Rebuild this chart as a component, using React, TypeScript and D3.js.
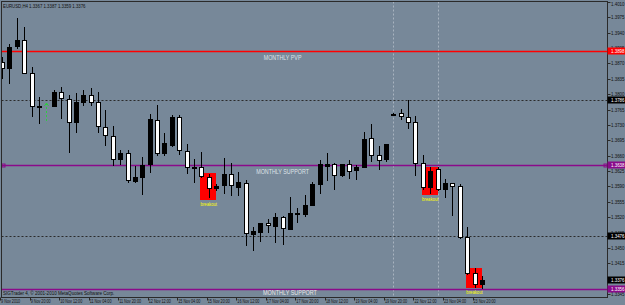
import React from 'react';
import * as d3 from 'd3';

// ---- data (EURUSD H4) ----
const opens = [1.3873,1.3860,1.3910,1.3923,1.3848,1.3772,NaN,1.3773,1.3805,1.3789,1.3737,1.3782,1.3798,1.3782,1.3725,1.3705,1.3653,1.3666,1.3602,1.3612,1.3641,1.3741,1.3666,1.3684,1.3748,1.3671,1.3633,1.3634,1.3612,1.3587,1.3593,1.3618,1.3589,1.3598,1.3482,1.3486,1.3507,1.3500,1.3520,1.3493,1.3529,1.3527,1.3548,1.3596,1.3637,1.3641,1.3616,1.3641,1.3627,1.3634,1.3700,1.3662,1.3653,1.3754,1.3757,1.3748,1.3737,1.3643,1.3589,1.3630,1.3584,1.3598,1.3591,1.3475,1.3393,1.3367];
const highs = [1.3885,1.3914,1.3974,1.3953,1.3862,1.3794,NaN,1.3810,1.3817,1.3798,1.3803,1.3810,1.3814,1.3805,1.3764,1.3728,1.3673,1.3673,1.3637,1.3657,1.3755,1.3775,1.3712,1.3753,1.3753,1.3687,1.3653,1.3668,1.3618,1.3596,1.3655,1.3643,1.3623,1.3605,1.3498,1.3507,1.3516,1.3530,1.3523,1.3566,1.3541,1.3571,1.3600,1.3650,1.3666,1.3643,1.3641,1.3650,1.3639,1.3714,1.3732,1.3682,1.3687,1.3757,1.3766,1.3787,1.3750,1.3662,1.3634,1.3634,1.3607,1.3598,1.3596,1.3498,1.3404,1.3387];
const lows = [1.3837,1.3826,1.3905,1.3848,1.3750,1.3734,NaN,1.3773,1.3746,1.3668,1.3714,1.3775,1.3775,1.3714,1.3684,1.3639,1.3641,1.3600,1.3600,1.3573,1.3623,1.3662,1.3662,1.3682,1.3664,1.3621,1.3600,1.3612,1.3566,1.3582,1.3575,1.3571,1.3571,1.3457,1.3445,1.3466,1.3486,1.3464,1.3459,1.3493,1.3509,1.3523,1.3548,1.3575,1.3605,1.3584,1.3614,1.3609,1.3607,1.3634,1.3648,1.3630,1.3648,1.3753,1.3744,1.3723,1.3616,1.3584,1.3575,1.3582,1.3566,1.3525,1.3473,1.3391,1.3361,1.3359];
const closes = [1.3860,1.3908,1.3923,1.3848,1.3773,1.3774,NaN,1.3805,1.3791,1.3737,1.3782,1.3798,1.3782,1.3728,1.3707,1.3653,1.3666,1.3605,1.3612,1.3639,1.3744,1.3666,1.3689,1.3748,1.3673,1.3634,1.3635,1.3614,1.3587,1.3591,1.3618,1.3593,1.3600,1.3484,1.3489,1.3507,1.3502,1.3520,1.3495,1.3530,1.3530,1.3548,1.3596,1.3641,1.3641,1.3616,1.3641,1.3625,1.3634,1.3698,1.3662,1.3650,1.3687,1.3756,1.3750,1.3737,1.3643,1.3589,1.3625,1.3584,1.3598,1.3591,1.3475,1.3393,1.3368,1.3376];

const timeLabelBars = [0,4,8,12,16,20,24,28,32,36,40,44,48,52,56,60,64];
const timeLabels = ['9 Nov 2010','9 Nov 20:00','10 Nov 12:00','11 Nov 04:00','11 Nov 20:00','12 Nov 12:00','15 Nov 04:00','15 Nov 20:00','16 Nov 12:00','17 Nov 04:00','17 Nov 20:00','18 Nov 12:00','19 Nov 04:00','19 Nov 20:00','22 Nov 12:00','23 Nov 04:00','23 Nov 20:00'];

const priceTicks = d3.range(20).map(i => +(1.4010 - 0.0035 * i).toFixed(4));

const levelPrices = [1.3898, 1.3786, 1.3638, 1.3476, 1.3356];
const levelKinds = ['red', 'dot', 'purple', 'dot', 'purple'];

const tagPrices = [1.3898, 1.3786, 1.3638, 1.3476, 1.3376, 1.3356];
const tagKinds = ['red', 'black', 'purple', 'black', 'black', 'purple'];

const boxStartBars = [27, 57, 63];
const boxEndBars = [29, 59, 65];
const boxTops = [1.3621, 1.3634, 1.3404];
const boxBottoms = [1.3559, 1.3571, 1.3358];
const boxLabel = 'breakout';

const separatorBars = [53, 59];

const textNotes = ['MONTHLY PVP', 'MONTHLY SUPPORT', 'MONTHLY SUPPORT'];
const textBars = [38, 38, 39];
const textPrices = [1.3883, 1.3623, 1.3347];

const arrowBar = 6;
const arrowTop = 1.3780;
const arrowBottom = 1.3734;

const headerText = 'EURUSD,H4  1.3367 1.3387 1.3359 1.3376';
const copyrightText = 'SIGTrader 4, \u00A9 2001-2010 MetaQuotes Software Corp.';

const RED = '#ff0000';
const PURPLE = '#8a0a8a';
const BLACK = '#000000';

export default function App() {
  const W = 625, H = 305;
  const plotL = 1.5, plotR = 607.5, plotT = 1.5, plotB = 297.5;
  const x = d3.scaleLinear().domain([0, 65]).range([2.1, 481.9]);
  const y = d3.scaleLinear().domain([1.3345, 1.4010]).range([294, 2]);
  const px = (v: number) => Math.round(v) + 0.5;
  const fmt = d3.format('.4f');
  const font = '"Liberation Sans", Arial, sans-serif';
  const kindColor = (k: string) => (k === 'red' ? RED : k === 'purple' ? PURPLE : BLACK);
  const txt = (key: string, tx: number, ty: number, s: string, size: number, sx: number, fill: string, anchor = 'start') => (
    <text key={key} transform={`translate(${tx},${ty}) scale(${sx},1)`} fontSize={size} fill={fill} fontFamily={font} textAnchor={anchor}>{s}</text>
  );
  const tagYs = tagPrices.map(p => y(p));

  return (
    <svg width={W} height={H} style={{ position: 'absolute', left: 0, top: 0, display: 'block' }}>
      <rect x={0} y={0} width={W} height={H} fill="#778899" />
      <defs>
        <clipPath id="plot"><rect x={plotL} y={plotT} width={plotR - plotL} height={plotB - plotT} /></clipPath>
      </defs>

      <g clipPath="url(#plot)">
        {separatorBars.map((b, i) => (
          <line key={'sep' + i} x1={px(x(b))} x2={px(x(b))} y1={plotT} y2={plotB} stroke="#a8b3bf" strokeDasharray="2,2" />
        ))}
        {levelPrices.map((p, i) => {
          const k = levelKinds[i];
          const yy = px(y(p));
          if (k === 'dot') return <line key={'lv' + i} x1={plotL} x2={plotR} y1={yy} y2={yy} stroke="#2b2b2b" strokeDasharray="2,2" />;
          return <line key={'lv' + i} x1={plotL} x2={plotR} y1={yy} y2={yy} stroke={kindColor(k)} strokeWidth={1.5} />;
        })}
        <rect x={plotL + 0.5} y={px(y(levelPrices[2])) - 1.5} width={3} height={3} fill="none" stroke={PURPLE} />
        <rect x={plotR - 3.5} y={px(y(levelPrices[2])) - 1.5} width={3} height={3} fill="none" stroke={PURPLE} />

        {boxStartBars.map((b, i) => (
          <rect key={'bx' + i} x={Math.round(x(b)) - 1} y={Math.round(y(boxTops[i]))} width={Math.round(x(boxEndBars[i])) - Math.round(x(b)) + 1} height={Math.round(y(boxBottoms[i])) - Math.round(y(boxTops[i]))} fill={RED} />
        ))}

        {opens.map((o, i) => {
          if (isNaN(o)) return null;
          const c = closes[i];
          const cx = px(x(i));
          const top = Math.round(y(Math.max(o, c))) + 0.5;
          const bot = Math.round(y(Math.min(o, c))) + 0.5;
          const bull = c >= o;
          return (
            <g key={'c' + i}>
              <line x1={cx} x2={cx} y1={Math.round(y(highs[i]))} y2={Math.round(y(lows[i])) + 1} stroke="#000" />
              <rect x={cx - 2} y={top} width={4} height={Math.max(bot - top, 1)} fill={bull ? '#000' : '#fff'} stroke="#000" />
            </g>
          );
        })}

        <line x1={px(x(arrowBar))} x2={px(x(arrowBar))} y1={y(arrowTop)} y2={y(arrowBottom)} stroke="#2ecc40" strokeDasharray="2,2" />
        <path d={`M${px(x(arrowBar)) - 2},${y(arrowTop) + 3} L${px(x(arrowBar))},${y(arrowTop)} L${px(x(arrowBar)) + 2},${y(arrowTop) + 3}`} fill="none" stroke="#2ecc40" />

        {boxStartBars.map((b, i) => txt('bl' + i, (x(b) + x(boxEndBars[i])) / 2, y(boxBottoms[i]) + 6, boxLabel, 5, 0.85, '#ffff00', 'middle'))}

        {textNotes.map((t, i) => txt('tn' + i, x(textBars[i]), y(textPrices[i]) + 2, t, i === 2 ? 7 : 6.5, i === 2 ? 0.78 : 0.82, i === 2 ? '#e8e8e8' : '#dfe3e8', 'middle'))}

        {txt('hdr', 3, 8, headerText, 6, 0.72, '#111')}
        {txt('cpy', 3, 295, copyrightText, 6, 0.76, '#111')}
      </g>

      <rect x={plotL} y={plotT} width={plotR - plotL} height={plotB - plotT} fill="none" stroke="#2a2a2a" />

      {priceTicks.map((p, i) => {
        const yy = y(p);
        const hidden = tagYs.some(t => Math.abs(t - yy) < 2.5);
        return (
          <g key={'pt' + i}>
            <line x1={plotR} x2={plotR + 3} y1={px(yy)} y2={px(yy)} stroke="#2a2a2a" />
            {!hidden && txt('ptl' + i, plotR + 3.5, Math.max(yy + 2, 5.5), fmt(p), 6, 0.74, '#111')}
          </g>
        );
      })}
      {tagPrices.map((p, i) => (
        <g key={'tg' + i}>
          <rect x={plotR} y={Math.round(y(p)) - 3.5} width={W - plotR} height={7} fill={kindColor(tagKinds[i])} />
          {txt('tgl' + i, plotR + 3.5, y(p) + 2, fmt(p), 6, 0.74, '#fff')}
        </g>
      ))}

      {timeLabelBars.map((b, i) => (
        <g key={'tl' + i}>
          <line x1={px(x(b) - 2)} x2={px(x(b) - 2)} y1={plotB} y2={plotB + 3} stroke="#2a2a2a" />
          {txt('tlt' + i, x(b) - 1, 303, timeLabels[i], 6, 0.62, '#111')}
        </g>
      ))}
    </svg>
  );
}
